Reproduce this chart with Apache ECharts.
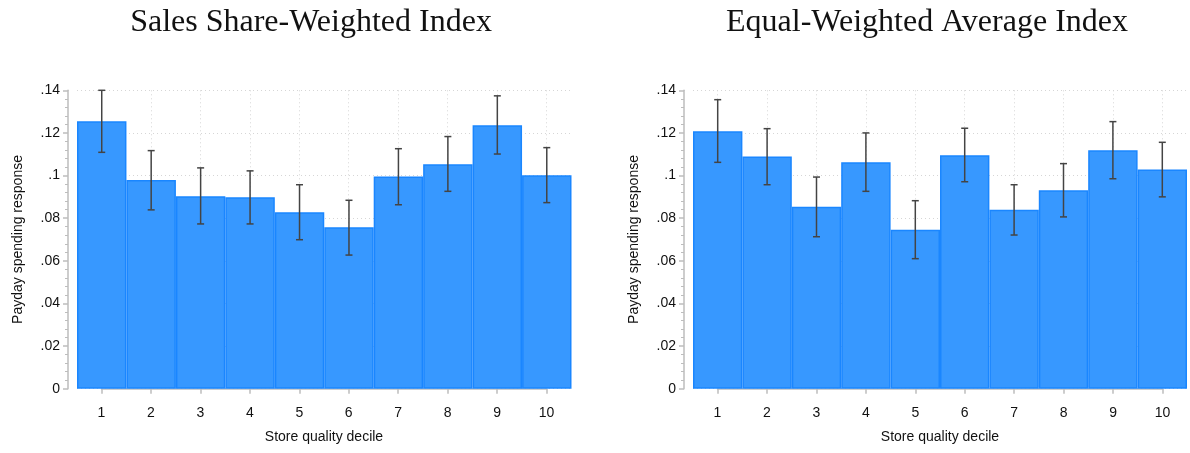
<!DOCTYPE html>
<html>
<head>
<meta charset="utf-8">
<script src="https://cdn.jsdelivr.net/npm/echarts@6/dist/echarts.min.js"></script>
<style>
  html, body { margin: 0; padding: 0; background: #fff; }
  #main { width: 1190px; height: 453px; }
</style>
</head>
<body>
<div id="main"></div>
<script>
var deciles = ["1", "2", "3", "4", "5", "6", "7", "8", "9", "10"];
var yTicks = [0, 0.02, 0.04, 0.06, 0.08, 0.1, 0.12, 0.14];

// Sales share-weighted index
var salesVal = [0.1255, 0.0979, 0.0903, 0.0898, 0.0828, 0.0757, 0.0995, 0.1053, 0.1236, 0.1001];
var salesLow = [0.1109, 0.0839, 0.0773, 0.0773, 0.0699, 0.0627, 0.0863, 0.0926, 0.1101, 0.0873];
var salesHigh = [0.1400, 0.1117, 0.1036, 0.1022, 0.0957, 0.0884, 0.1126, 0.1183, 0.1374, 0.1131];

// Equal-weighted average index
var equalVal = [0.1208, 0.1089, 0.0854, 0.1062, 0.0746, 0.1095, 0.0840, 0.0931, 0.1119, 0.1028];
var equalLow = [0.1062, 0.0957, 0.0713, 0.0926, 0.0610, 0.0971, 0.0721, 0.0806, 0.0985, 0.0900];
var equalHigh = [0.1356, 0.1220, 0.0993, 0.1200, 0.0882, 0.1222, 0.0957, 0.1056, 0.1253, 0.1156];

var titles = ["Sales Share-Weighted Index", "Equal-Weighted Average Index"];

var barColor = "#3798ff";
var barEdge = "#1a86ff";
var gridColor = "#d6d6d6";
var axisColor = "#bdbdbd";
var sans = "Liberation Sans, Arial, sans-serif";

function fmtY(v) {
  if (v === 0) return "0";
  return String(+v.toFixed(2)).replace(/^0/, "");
}

function errData(lo, hi) {
  var out = [];
  for (var i = 0; i < lo.length; i++) out.push([i, lo[i], hi[i]]);
  return out;
}

function renderErr(params, api) {
  var i = api.value(0);
  var pLo = api.coord([i, api.value(1)]);
  var pHi = api.coord([i, api.value(2)]);
  var cap = 3.5;
  var style = { stroke: "#444", lineWidth: 1.5 };
  return {
    type: "group",
    children: [
      { type: "line", shape: { x1: pLo[0], y1: pLo[1], x2: pHi[0], y2: pHi[1] }, style: style },
      { type: "line", shape: { x1: pLo[0] - cap, y1: pLo[1], x2: pLo[0] + cap, y2: pLo[1] }, style: style },
      { type: "line", shape: { x1: pHi[0] - cap, y1: pHi[1], x2: pHi[0] + cap, y2: pHi[1] }, style: style }
    ]
  };
}

// two grids per panel: one for bars (full category width), one for the 1..10 axis
var panels = [
  { bar: { left: 77, right: 618.5 }, ax: { left: 101.5, right: 643.5 }, val: salesVal, lo: salesLow, hi: salesHigh, cx: 306 },
  { bar: { left: 693, right: 3 }, ax: { left: 717.5, right: 27.5 }, val: equalVal, lo: equalLow, hi: equalHigh, cx: 922 }
];

var grid = [], xAxis = [], yAxis = [], series = [], title = [];
panels.forEach(function (p, k) {
  var gb = grid.length;
  grid.push({ left: p.bar.left, right: p.bar.right, top: 90.3, bottom: 64.3 });
  grid.push({ left: p.ax.left, right: p.ax.right, top: 90.3, bottom: 64.3 });

  title.push({
    text: titles[k], left: p.cx, top: 2, textAlign: "center",
    textStyle: { fontFamily: "Liberation Serif, serif", fontWeight: "normal", fontSize: 32, color: "#111" }
  });

  xAxis.push({
    type: "category", gridIndex: gb, data: deciles, boundaryGap: true, show: false
  });
  xAxis.push({
    type: "value", gridIndex: gb + 1, min: 1, max: 10, interval: 1, offset: 9,
    name: "Store quality decile", nameLocation: "middle", nameGap: 32,
    nameTextStyle: { fontFamily: sans, fontSize: 14, color: "#111" },
    axisLine: { show: true, lineStyle: { color: axisColor, width: 1.5 } },
    axisTick: { show: true, length: 5, lineStyle: { color: axisColor, width: 1.5 } },
    axisLabel: { margin: 8, fontFamily: sans, fontSize: 14, color: "#111" },
    splitLine: { show: true, lineStyle: { color: gridColor, type: [1, 3], width: 1 } }
  });

  yAxis.push({
    type: "value", gridIndex: gb, min: 0, max: 0.14, interval: 0.02, offset: 9,
    name: "Payday spending response", nameLocation: "middle", nameGap: 43,
    nameTextStyle: { fontFamily: sans, fontSize: 14, color: "#111" },
    axisLine: { show: true, lineStyle: { color: axisColor, width: 1.5 } },
    axisTick: { show: true, length: 5, lineStyle: { color: axisColor, width: 1.5 } },
    minorTick: { show: true, splitNumber: 5, length: 3, lineStyle: { color: axisColor, width: 1 } },
    axisLabel: { margin: 8, fontFamily: sans, fontSize: 14, color: "#111", formatter: fmtY },
    splitLine: { show: true, lineStyle: { color: gridColor, type: [1, 3], width: 1 } }
  });
  yAxis.push({ type: "value", gridIndex: gb + 1, min: 0, max: 1, show: false, splitLine: { show: false } });

  series.push({
    type: "bar", xAxisIndex: gb, yAxisIndex: gb, data: p.val,
    barCategoryGap: "0%", z: 3,
    itemStyle: { color: barColor, borderColor: barEdge, borderWidth: 1.5 }
  });
  series.push({
    type: "custom", xAxisIndex: gb, yAxisIndex: gb, data: errData(p.lo, p.hi),
    renderItem: renderErr, z: 4, encode: { x: 0, y: [1, 2] }
  });
});

var chart = echarts.init(document.getElementById("main"));
chart.setOption({
  animation: false,
  backgroundColor: "#fff",
  title: title,
  grid: grid,
  xAxis: xAxis,
  yAxis: yAxis,
  series: series
});
window.addEventListener("resize", function () { chart.resize(); });
</script>
</body>
</html>
